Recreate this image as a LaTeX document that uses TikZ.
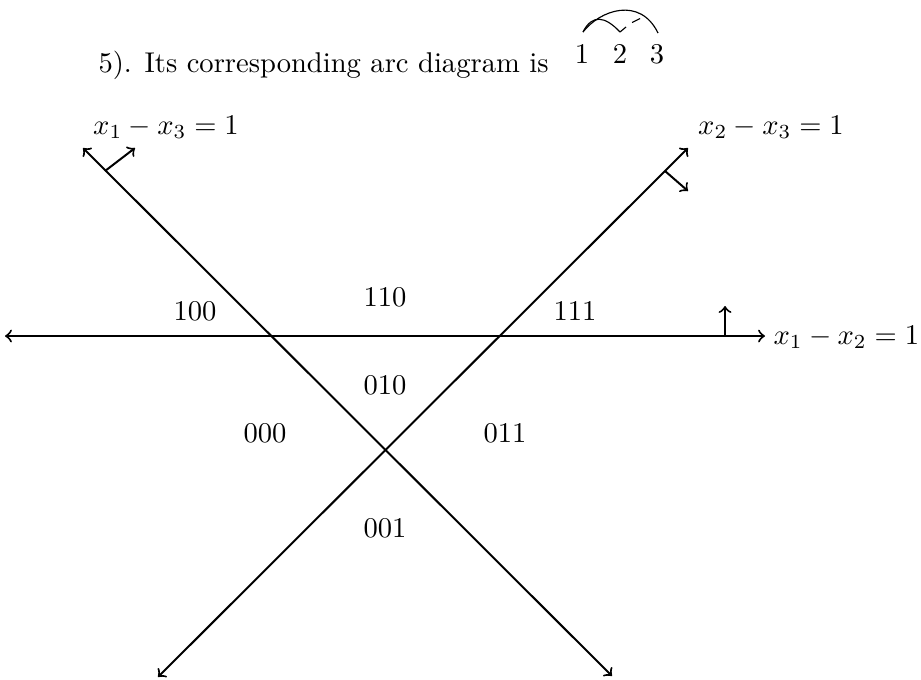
\documentclass[tikz,border=0pt]{standalone}
\usetikzlibrary{arrows.meta}
\begin{document}
\begin{tikzpicture}[x=0.35pt,y=-0.35pt,
  hyper/.style={line width=0.7pt,<->,>=to},
  normarrow/.style={line width=0.7pt,->,>=to},
  region/.style={inner sep=0pt},
  eqlabel/.style={inner sep=0pt},
  arcline/.style={line width=0.4pt}]
\useasboundingbox (0,0) rectangle (921,679);
% top text
\node[anchor=base west,inner sep=0pt] (txt) at (98,72) {5). Its corresponding arc diagram is};
\node[anchor=base,inner sep=0pt] (n1) at (582,63) {1};
\node[anchor=base,inner sep=0pt] (n2) at (620,63) {2};
\node[anchor=base,inner sep=0pt] (n3) at (657,63) {3};
\coordinate (a1) at (583,32);
\coordinate (a2) at (620,32);
\coordinate (a3) at (658,33);
\draw[arcline] (a1) .. controls (600,10) and (640,-4) .. (a3);
\draw[arcline] (a1) .. controls (592,14) and (605,16) .. (a2);
\draw[arcline] (a2) -- (626,27);
\draw[arcline] (632,22.5) -- (640,18.5);
% lines
\coordinate (h1) at (5,336);
\coordinate (h2) at (765,336);
\coordinate (l1a) at (83,148);
\coordinate (l1b) at (612,676);
\coordinate (l2a) at (158,677);
\coordinate (l2b) at (688,148);
\draw[hyper] (h1) -- (h2);
\draw[hyper] (l1a) -- (l1b);
\draw[hyper] (l2a) -- (l2b);
% normal arrows
\coordinate (p1) at (105,171);
\coordinate (q1) at (135,148);
\coordinate (p2) at (665,171);
\coordinate (q2) at (688,191);
\coordinate (p3) at (725,336);
\coordinate (q3) at (725,306);
\draw[normarrow] (p1) -- (q1);
\draw[normarrow] (p2) -- (q2);
\draw[normarrow] (p3) -- (q3);
% labels
\node[eqlabel] (e13) at (166,127) {$x_1-x_3=1$};
\node[eqlabel] (e23) at (771,127) {$x_2-x_3=1$};
\node[eqlabel,anchor=west] (e12) at (773,337) {$x_1-x_2=1$};
% regions
\node[region] (r100) at (195,311) {100};
\node[region] (r110) at (385,297) {110};
\node[region] (r111) at (575,311) {111};
\node[region] (r010) at (385,385) {010};
\node[region] (r000) at (265,433) {000};
\node[region] (r011) at (505,433) {011};
\node[region] (r001) at (385,528) {001};
\end{tikzpicture}
\end{document}
